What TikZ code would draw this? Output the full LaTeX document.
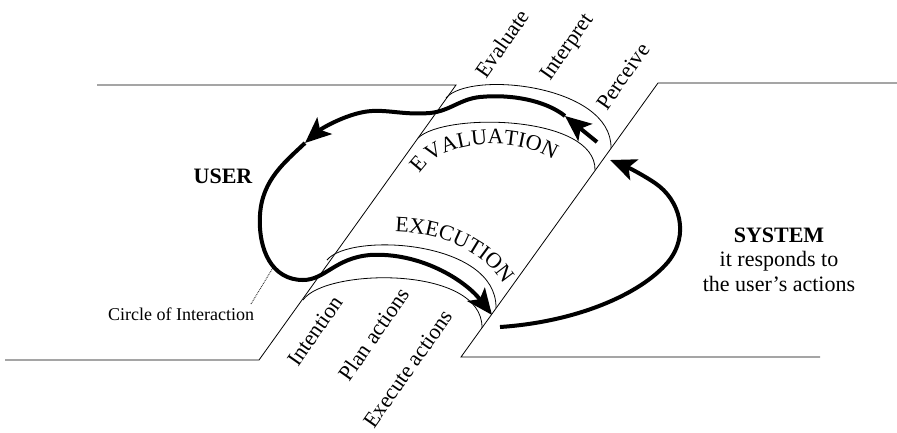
\documentclass[tikz,border=0pt]{standalone}
\usepackage{fontspec}
\setmainfont{Liberation Serif}
\usetikzlibrary{arrows.meta,decorations.text}
\begin{document}
\begin{tikzpicture}[x=1pt,y=-1pt,
  thinline/.style={line width=0.8pt},
  flowarrow/.style={line width=4pt,-{Stealth[length=26pt,width=22pt,inset=6pt]}},
  lbl/.style={font=\fontsize{22}{22}\selectfont, rotate=55, inner sep=0pt},
  bigtxt/.style={font=\fontsize{22}{22}\selectfont, inner sep=0pt, anchor=base},
]
\useasboundingbox (0,0) rectangle (897,432);
% planes
\coordinate (L1) at (5,360); \coordinate (L2) at (259,360);
\coordinate (L3) at (456,85); \coordinate (L4) at (97,85);
\coordinate (R1) at (897,83); \coordinate (R2) at (658,83);
\coordinate (R3) at (461,357); \coordinate (R4) at (820,357);
\draw[thinline] (L1) -- (L2) -- (L3) -- (L4);
\draw[thinline] (R1) -- (R2) -- (R3) -- (R4);
% bands
\coordinate (EvO1) at (446,98);  \coordinate (EvO2) at (611,148);
\coordinate (EvI1) at (418,138); \coordinate (EvI2) at (595,170);
\coordinate (ExO1) at (327,260); \coordinate (ExO2) at (496,308);
\coordinate (ExI1) at (303,300); \coordinate (ExI2) at (482,328);
\draw[thinline] (EvO1) .. controls (470,70) and (612,85) .. (EvO2);
\draw[thinline] (EvI1) .. controls (445,112) and (596,115) .. (EvI2);
\draw[thinline] (ExO1) .. controls (350,232) and (497,240) .. (ExO2);
\draw[thinline] (ExI1) .. controls (325,268) and (483,265) .. (ExI2);
% band titles
\path[decorate, decoration={text along path, text align=center,
  text={|\fontsize{22}{22}\selectfont|E|\fontsize{9}{9}\selectfont| |\fontsize{22}{22}\selectfont|VALUATION}}]
  (416,184) .. controls (426,140) and (520,130) .. (562,166);
\path[decorate, decoration={text along path, text align=left,
  text={|\fontsize{22}{22}\selectfont|EXECUTION}}]
  (395,232) .. controls (445,233) and (495,255) .. (512,300);
% stage labels
\node[lbl] (ev) at (502,44) {Evaluate};
\node[lbl] (ip) at (568,48) {Interpret};
\node[lbl] (pc) at (623,76) {Perceive};
\node[lbl] (in) at (315,331) {Intention};
\node[lbl] (pa) at (374,334) {Plan actions};
\node[lbl] (ea) at (408,369) {Execute actions};
% big labels
\node[bigtxt, font=\bfseries\fontsize{22}{22}\selectfont] (user) at (223,183) {USER};
\node[bigtxt, font=\bfseries\fontsize{22}{22}\selectfont] (sys) at (779,242) {SYSTEM};
\node[bigtxt] (sys2) at (779,266) {it responds to};
\node[bigtxt] (sys3) at (779,291) {the user’s actions};
\node[font=\fontsize{18}{18}\selectfont, inner sep=0pt, anchor=base west] (coi) at (108,320) {Circle of Interaction};
% circle of interaction
\coordinate (a0) at (597,142);
\coordinate (a1) at (565,116);
\coordinate (a2) at (305,143);
\coordinate (a3) at (492,315);
\coordinate (b0) at (500,327);
\coordinate (b1) at (610,160);
\coordinate (d1) at (251,304);
\coordinate (d2) at (274,266);
\draw[flowarrow] (a0) -- (a1);
\draw[flowarrow] (a1) .. controls (545,100) and (510,94) .. (480,97)
  .. controls (460,99) and (450,111) .. (430,113)
  .. controls (405,115) and (390,110) .. (372,111)
  .. controls (350,112) and (322,128) .. (a2);
\draw[flowarrow] (a2) .. controls (285,162) and (262,180) .. (260,215)
  .. controls (258,250) and (272,280) .. (303,280)
  .. controls (325,280) and (335,258) .. (370,255)
  .. controls (420,252) and (465,280) .. (a3);
\draw[flowarrow] (b0) .. controls (575,322) and (640,295) .. (668,262)
  .. controls (690,235) and (680,200) .. (655,183)
  .. controls (640,173) and (625,166) .. (b1);
\draw[densely dotted, line width=0.8pt] (d1) -- (d2);
\end{tikzpicture}
\end{document}
